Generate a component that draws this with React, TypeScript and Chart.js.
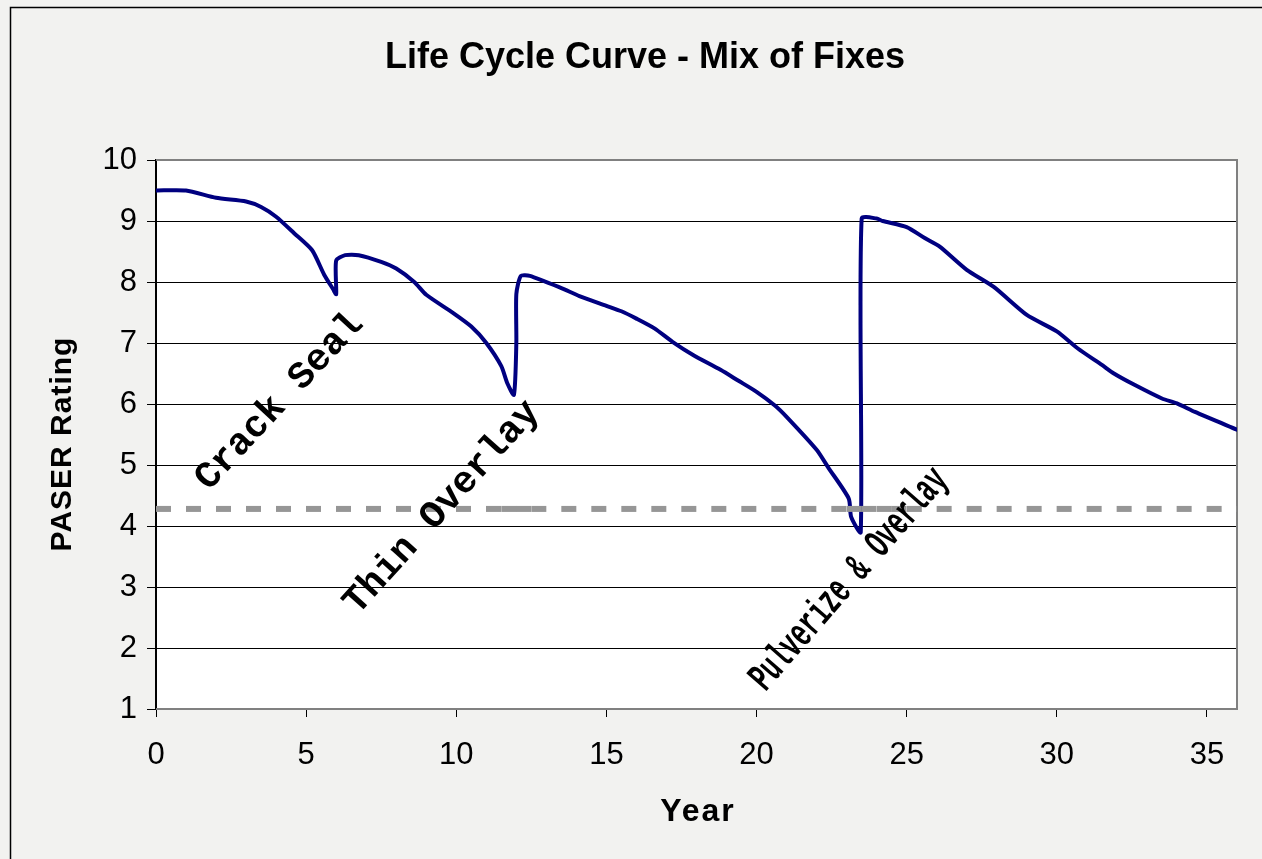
import React, { useEffect, useRef } from 'react';
import { Chart, registerables } from 'chart.js';

Chart.register(...registerables);

const CHART_TITLE = 'Life Cycle Curve - Mix of Fixes';
const X_AXIS_TITLE = 'Year';
const Y_AXIS_TITLE = 'PASER Rating';

const YEARS = [
  0, 1, 2, 3, 3.5, 4, 4.6, 5.2, 5.6, 5.9, 6.0,
  6.0, 6.3, 6.75, 7.5, 8.0, 8.6, 9.0, 9.9, 10.5, 11.0, 11.5, 11.7, 11.92,
  12.0, 12.0, 12.15, 12.45, 13.5, 14.1, 15.0, 15.5, 16.0, 16.6, 17.2, 17.9, 18.8, 19.4, 20.0, 20.6, 21.0, 22.0, 22.4, 23.07, 23.15, 23.47,
  23.5, 24.0, 24.2, 25.0, 25.6, 26.1, 27.0, 27.9, 29.0, 30.0, 30.7, 31.5, 31.9, 32.6, 33.5, 34.0, 34.6, 36.0,
];
const RATINGS = [
  9.5, 9.5, 9.38, 9.32, 9.23, 9.07, 8.8, 8.52, 8.12, 7.88, 7.8,
  8.35, 8.44, 8.44, 8.33, 8.22, 8.0, 7.79, 7.49, 7.27, 7.0, 6.62, 6.34, 6.15,
  7.0, 7.8, 8.1, 8.1, 7.9, 7.77, 7.61, 7.52, 7.4, 7.24, 7.02, 6.8, 6.56, 6.38, 6.2, 5.98, 5.79, 5.25, 4.95, 4.45, 4.15, 3.9,
  9.04, 9.04, 9.0, 8.9, 8.72, 8.58, 8.2, 7.92, 7.46, 7.19, 6.91, 6.64, 6.5, 6.31, 6.09, 6.01, 5.87, 5.58,
];

const THRESHOLD = 4.28;
const THRESHOLD_STARTS = [0, 11.5, 23.0];
const THRESHOLD_ENDS = [12.5, 25.5, 36];

const X_TICKS = [0, 5, 10, 15, 20, 25, 30, 35];
const X_MIN = 0;
const X_MAX = 36;
const Y_MIN = 1;
const Y_MAX = 10;

const FIX_LABELS = ['Crack Seal', 'Thin Overlay', 'Pulverize & Overlay'];

// placement of the rotated fix labels (data coordinates + style)
const LABEL_PLACEMENT = [
  { x: 4.12, y: 6.04, angle: 47, size: 38, squeeze: 1 },
  { x: 9.53, y: 4.3, angle: 48, size: 38, squeeze: 1 },
  { x: 23.1, y: 3.12, angle: 49, size: 41, squeeze: 0.6 },
];

const SANS = "'Liberation Sans', Arial, sans-serif";
const MONO = "'Liberation Mono', 'Courier New', monospace";

const decorPlugin = {
  id: 'decor',
  beforeDraw(chart: any) {
    const { ctx, width, height, chartArea: a } = chart;
    ctx.save();
    ctx.fillStyle = '#f2f2f0';
    ctx.fillRect(0, 0, width, height);
    ctx.strokeStyle = '#000';
    ctx.lineWidth = 1.5;
    ctx.beginPath();
    ctx.moveTo(10.5, height + 5);
    ctx.lineTo(10.5, 7.5);
    ctx.lineTo(width + 5, 7.5);
    ctx.stroke();
    ctx.fillStyle = '#ffffff';
    ctx.fillRect(a.left, a.top, a.right - a.left, a.bottom - a.top);
    ctx.restore();
  },
  beforeDatasetsDraw(chart: any) {
    const { ctx, chartArea: a } = chart;
    ctx.save();
    ctx.strokeStyle = '#808080';
    ctx.lineWidth = 2;
    ctx.beginPath();
    ctx.moveTo(a.left, a.top);
    ctx.lineTo(a.right, a.top);
    ctx.lineTo(a.right, a.bottom);
    ctx.lineTo(a.left, a.bottom);
    ctx.stroke();
    ctx.restore();
  },
  afterDatasetsDraw(chart: any) {
    const { ctx, scales } = chart;
    FIX_LABELS.forEach((text, i) => {
      const p = LABEL_PLACEMENT[i];
      const px = scales.x.getPixelForValue(p.x);
      const py = scales.y.getPixelForValue(p.y);
      ctx.save();
      ctx.translate(px, py);
      ctx.rotate((-p.angle * Math.PI) / 180);
      ctx.scale(p.squeeze, 1);
      ctx.font = `bold ${p.size}px ${MONO}`;
      ctx.fillStyle = '#000';
      ctx.textAlign = 'center';
      ctx.textBaseline = 'middle';
      ctx.fillText(text, 0, 0);
      ctx.restore();
    });
  },
  afterDraw(chart: any) {
    const { ctx } = chart;
    ctx.save();
    ctx.fillStyle = '#000';
    ctx.textAlign = 'center';
    ctx.textBaseline = 'middle';
    ctx.font = `bold 36px ${SANS}`;
    ctx.fillText(CHART_TITLE, 645, 58);

    ctx.font = `bold 32px ${SANS}`;
    (ctx as any).letterSpacing = '2px';
    ctx.fillText(X_AXIS_TITLE, 698, 812);

    ctx.translate(62.5, 444);
    ctx.rotate(-Math.PI / 2);
    ctx.font = `bold 30px ${SANS}`;
    (ctx as any).letterSpacing = '1px';
    ctx.fillText(Y_AXIS_TITLE, 0, 0);
    ctx.restore();
  },
};

export default function App() {
  const canvasRef = useRef<HTMLCanvasElement | null>(null);

  useEffect(() => {
    if (!canvasRef.current) return;
    const curve = YEARS.map((x, i) => ({ x, y: RATINGS[i] }));
    const thresholdSets = THRESHOLD_STARTS.map((s, i) => ({
      label: 'Threshold ' + (i + 1),
      data: [
        { x: s, y: THRESHOLD },
        { x: THRESHOLD_ENDS[i], y: THRESHOLD },
      ],
      showLine: true,
      borderColor: '#969696',
      borderWidth: 6,
      borderDash: [15, 15],
      borderCapStyle: 'butt',
      pointRadius: 0,
      tension: 0,
      order: 0,
    }));

    const chart = new Chart(canvasRef.current, {
      type: 'scatter',
      data: {
        datasets: [
          ...thresholdSets,
          {
            label: 'PASER Rating',
            data: curve,
            showLine: true,
            borderColor: '#000080',
            borderWidth: 4,
            pointRadius: 0,
            tension: 0.22,
            borderJoinStyle: 'round',
            borderCapStyle: 'round',
            order: 1,
          },
        ] as any,
      },
      options: {
        responsive: false,
        animation: false,
        events: [],
        layout: { padding: { top: 160, right: 25, bottom: 0, left: 0 } },
        plugins: {
          legend: { display: false },
          title: { display: false },
          tooltip: { enabled: false },
        },
        scales: {
          x: {
            type: 'linear',
            min: X_MIN,
            max: X_MAX,
            afterFit: (scale: any) => {
              scale.height = 150;
            },
            afterBuildTicks: (scale: any) => {
              scale.ticks = X_TICKS.map((v) => ({ value: v }));
            },
            grid: {
              drawOnChartArea: false,
              drawTicks: true,
              tickLength: 8,
              tickColor: '#000',
              color: '#000',
            },
            border: { display: false },
            ticks: {
              autoSkip: false,
              maxRotation: 0,
              padding: 20,
              color: '#000',
              font: { family: SANS, size: 31 },
            },
          },
          y: {
            type: 'linear',
            min: Y_MIN,
            max: Y_MAX,
            afterFit: (scale: any) => {
              scale.width = 156;
            },
            grid: {
              drawTicks: true,
              tickLength: 9,
              tickColor: '#000',
              color: (c: any) =>
                c.tick && (c.tick.value === Y_MIN || c.tick.value === Y_MAX) ? 'rgba(0,0,0,0)' : '#000',
              lineWidth: 1,
            },
            border: { display: true, color: '#000', width: 2 },
            ticks: {
              stepSize: 1,
              padding: 10,
              color: '#000',
              font: { family: SANS, size: 31 },
            },
          },
        },
      } as any,
      plugins: [decorPlugin],
    });

    return () => {
      chart.destroy();
    };
  }, []);

  return (
    <div style={{ position: 'absolute', left: 0, top: 0, width: 1262, height: 859 }}>
      <canvas ref={canvasRef} width={1262} height={859} style={{ display: 'block' }} />
    </div>
  );
}
